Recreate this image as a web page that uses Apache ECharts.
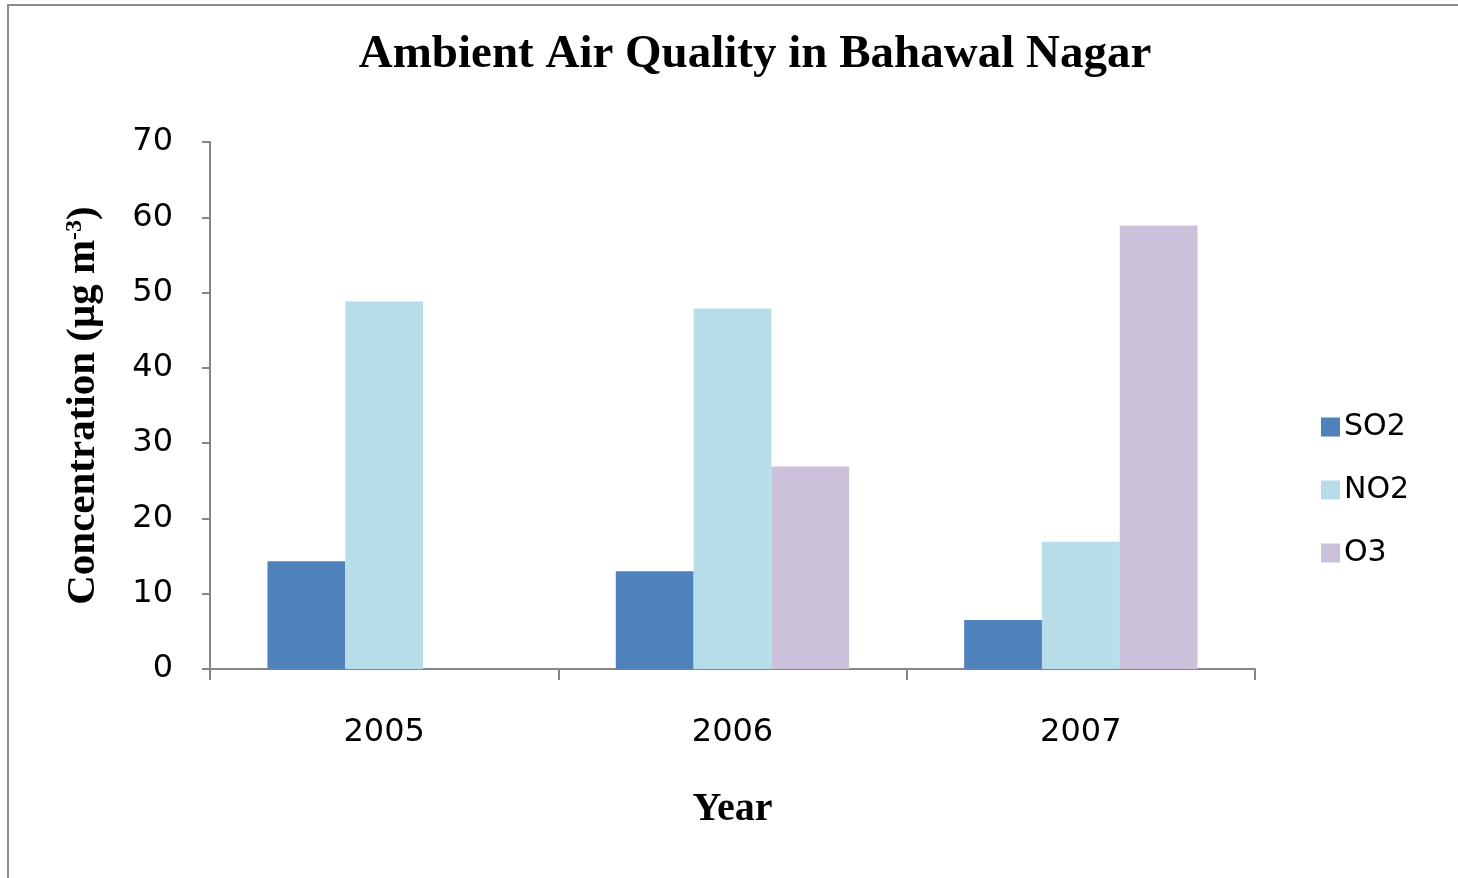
<!DOCTYPE html>
<html>
<head>
<meta charset="utf-8">
<script src="https://cdn.jsdelivr.net/npm/echarts@6/dist/echarts.min.js"></script>
<style>
  html, body { margin: 0; padding: 0; background: #fff; }
  #chart { width: 1458px; height: 878px; }
</style>
</head>
<body>
<div id="chart"></div>
<script>
var years = ['2005', '2006', '2007'];
var so2 = [14.3, 13.0, 6.5];
var no2 = [48.8, 47.9, 16.9];
var o3 = [null, 26.9, 58.9];
var yTicks = [0, 10, 20, 30, 40, 50, 60, 70];

var myChart = echarts.init(document.getElementById('chart'));
var serif = '"Liberation Serif", "Times New Roman", serif';
var sans = '"DejaVu Sans", Verdana, sans-serif';

var option = {
  animation: false,
  backgroundColor: '#fff',
  graphic: [{
    type: 'rect',
    shape: { x: 8, y: 5, width: 1500, height: 900 },
    style: { fill: 'none', stroke: '#8c8c8c', lineWidth: 2 },
    silent: true
  }],
  title: {
    text: 'Ambient Air Quality in Bahawal Nagar',
    left: 750,
    textAlign: 'center',
    top: 26,
    textStyle: { fontFamily: serif, fontWeight: 'bold', fontSize: 47, color: '#000' }
  },
  legend: {
    orient: 'vertical',
    left: 1316,
    top: 407,
    itemWidth: 19,
    itemHeight: 19,
    itemGap: 33,
    icon: 'rect',
    textStyle: { fontFamily: sans, fontSize: 30, color: '#000', padding: [0, 0, 0, -1] },
    data: ['SO2', 'NO2', 'O3']
  },
  grid: { left: 210, right: 203, top: 142, bottom: 209, containLabel: false },
  xAxis: {
    type: 'category',
    data: years,
    name: 'Year',
    nameLocation: 'middle',
    nameGap: 121,
    nameTextStyle: { fontFamily: serif, fontWeight: 'bold', fontSize: 40, color: '#000' },
    axisLine: { lineStyle: { color: '#868686', width: 2 } },
    axisTick: { show: true, alignWithLabel: false, length: 11, lineStyle: { color: '#868686', width: 2 } },
    axisLabel: { fontFamily: sans, fontSize: 32, color: '#000', margin: 48 }
  },
  yAxis: {
    type: 'value',
    min: yTicks[0],
    max: yTicks[yTicks.length - 1],
    interval: 10,
    name: '{a|Concentration (μg m}{b|-3}{a|)}',
    nameLocation: 'middle',
    nameRotate: 90,
    nameGap: 106,
    nameTextStyle: {
      rich: {
        a: { fontFamily: serif, fontWeight: 'bold', fontSize: 41, color: '#000' },
        b: { fontFamily: serif, fontWeight: 'bold', fontSize: 24, color: '#000', verticalAlign: 'top', padding: [0, 0, 16, 0] }
      }
    },
    axisLine: { show: true, lineStyle: { color: '#868686', width: 2 } },
    axisTick: { show: true, length: 8, lineStyle: { color: '#868686', width: 2 } },
    splitLine: { show: false },
    axisLabel: { fontFamily: sans, fontSize: 32, color: '#000', margin: 37 }
  },
  series: [
    { name: 'SO2', type: 'bar', data: so2, itemStyle: { color: '#4F81BD' }, barGap: '0%', barCategoryGap: '33%' },
    { name: 'NO2', type: 'bar', data: no2, itemStyle: { color: '#B7DDE8' } },
    { name: 'O3', type: 'bar', data: o3, itemStyle: { color: '#CCC1DA' } }
  ]
};
myChart.setOption(option);
</script>
</body>
</html>
